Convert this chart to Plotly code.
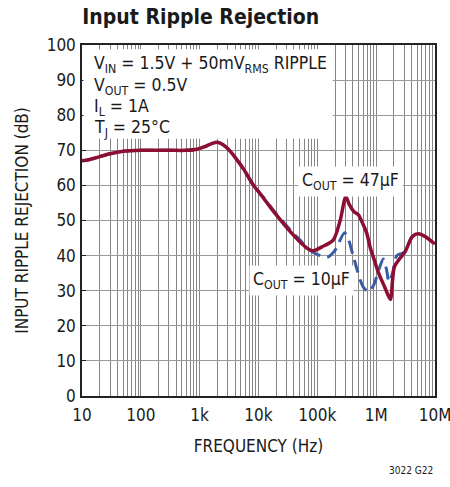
import plotly.graph_objects as go

# ---- data ----
freq_47 = [10, 13, 20, 30, 50, 100, 300, 600, 900, 1200, 1600, 2000, 2500, 3000, 4000, 5500,
           8000, 12000, 18000, 27000, 39000, 55000, 70000, 85000, 120000, 186000, 245000, 305000,
           350000, 420000, 500000, 560000, 690000, 800000, 900000, 1100000, 1400000, 1740000,
           1900000, 2040000, 2400000, 3100000, 4100000, 5200000, 7000000, 9300000, 10000000]
db_47 = [67.0, 67.3, 68.2, 69.0, 69.7, 70.0, 70.0, 70.0, 70.3, 71.0, 71.9, 72.3, 71.6, 70.5, 68.0, 64.8,
         60.3, 56.5, 52.6, 49.0, 45.9, 43.3, 41.9, 41.4, 42.5, 44.4, 50.1, 56.8,
         54.5, 52.5, 51.6, 50.0, 46.4, 42.0, 39.5, 35.0, 31.0, 27.5,
         33.0, 36.8, 38.7, 41.1, 45.4, 46.2, 45.3, 43.7, 43.4]

freq_10 = [10, 13, 20, 30, 50, 100, 300, 600, 900, 1200, 1600, 2000, 2500, 3000, 4000, 5500,
           8000, 12000, 18000, 27000, 39000, 51000, 70000, 112000, 150000, 200000, 290000, 340000,
           410000, 600000, 740000, 900000, 1320000, 1500000, 1650000, 1900000, 2240000, 2700000,
           3100000, 4100000, 5200000, 7000000, 9300000, 10000000]
db_10 = [67.0, 67.3, 68.2, 69.0, 69.7, 70.0, 70.0, 70.0, 70.3, 71.0, 71.9, 72.3, 71.6, 70.5, 68.0, 64.8,
         60.4, 56.7, 52.9, 49.4, 46.3, 44.4, 41.8, 40.0, 39.6, 41.5, 46.5, 44.5,
         39.7, 31.1, 29.7, 31.5, 39.0, 36.0, 32.5, 35.0, 40.0, 40.6,
         41.1, 45.4, 46.2, 45.3, 43.7, 43.4]

x_tickvals = [10, 100, 1000, 10000, 100000, 1000000, 10000000]
x_ticktext = ["10", "100", "1k", "10k", "100k", "1M", "10M"]
y_tickvals = [0, 10, 20, 30, 40, 50, 60, 70, 80, 90, 100]

FONT = "DejaVu Sans Condensed, Liberation Sans Narrow, Arial Narrow, sans-serif"
RED = "#8C0E33"
BLUE = "#3A5BA6"
GRID = "#858585"

minor_vals = [m * 10 ** e for e in range(1, 7) for m in range(2, 10)]

fig = go.Figure()
fig.add_trace(go.Scatter(x=freq_10, y=db_10, mode="lines",
                         line=dict(color=BLUE, width=3, dash="13px,7px", shape="spline", smoothing=0.8),
                         showlegend=False, hoverinfo="skip"))
fig.add_trace(go.Scatter(x=freq_47, y=db_47, mode="lines",
                         line=dict(color=RED, width=3.5, shape="spline", smoothing=0.8),
                         showlegend=False, hoverinfo="skip"))

# white box behind the condition text (covers the grid)
fig.add_shape(type="rect", xref="paper", yref="paper", x0=0.004, x1=0.71, y0=0.733, y1=0.988,
              fillcolor="white", line=dict(width=0), layer="above")

fig.update_layout(
    width=450, height=487,
    margin=dict(l=82, r=15, t=45, b=91, autoexpand=False),
    paper_bgcolor="white", plot_bgcolor="white",
    font=dict(family=FONT, size=17, color="#1a1a1a"),
    title=dict(text="<b>Input Ripple Rejection</b>", x=0.183, xanchor="left", y=0.965, yanchor="middle",
               font=dict(family=FONT, size=21, color="#1a1a1a")),
    xaxis=dict(type="log", range=[1, 7], tickvals=x_tickvals, ticktext=x_ticktext,
               showgrid=True, gridcolor=GRID, gridwidth=1, automargin=False,
               minor=dict(tickvals=minor_vals, showgrid=True, gridcolor=GRID, gridwidth=1),
               showline=True, linecolor="#222", linewidth=1.5, mirror=True, ticks="",
               ticklabeloverflow="allow", ticklabelstandoff=3,
               title=dict(text="FREQUENCY (Hz)", standoff=16, font=dict(size=17)),
               tickfont=dict(size=17), zeroline=False),
    yaxis=dict(range=[0, 100], tickvals=y_tickvals, showgrid=True, gridcolor="#9a9a9a", gridwidth=1,
               showline=True, linecolor="#222", linewidth=1.5, mirror=True, automargin=False,
               ticks="inside", ticklen=4, tickcolor="#222", ticklabelstandoff=1,
               title=dict(text="INPUT RIPPLE REJECTION (dB)", standoff=14, font=dict(size=17)),
               tickfont=dict(size=17), zeroline=False),
)

cond_lines = ["V<sub>IN</sub> = 1.5V + 50mV<sub>RMS</sub> RIPPLE",
              "V<sub>OUT</sub> = 0.5V",
              "I<sub>L</sub> = 1A",
              "T<sub>J</sub> = 25°C"]
cond_y = [0.945, 0.883, 0.821, 0.763]
for t, yy in zip(cond_lines, cond_y):
    fig.add_annotation(text=t, xref="paper", yref="paper", x=0.028, y=yy, xanchor="left",
                       yanchor="middle", showarrow=False, font=dict(family=FONT, size=17.5, color="#1a1a1a"))

fig.add_annotation(text="C<sub>OUT</sub> = 47µF", xref="paper", yref="paper", x=0.762, y=0.612,
                   xanchor="center", yanchor="middle", showarrow=False, bgcolor="white", borderpad=3,
                   font=dict(family=FONT, size=17.5, color="#1a1a1a"))
fig.add_annotation(text="C<sub>OUT</sub> = 10µF", xref="paper", yref="paper", x=0.622, y=0.328,
                   xanchor="center", yanchor="middle", showarrow=False, bgcolor="white", borderpad=3,
                   font=dict(family=FONT, size=17.5, color="#1a1a1a"))
fig.add_annotation(text="3022 G22", xref="paper", yref="paper", x=1.0, y=-0.211,
                   xanchor="right", yanchor="middle", showarrow=False,
                   font=dict(family=FONT, size=10, color="#1a1a1a"))

fig.write_html("out.html", config={"displayModeBar": False},
               post_script="document.body.style.margin='0';")
